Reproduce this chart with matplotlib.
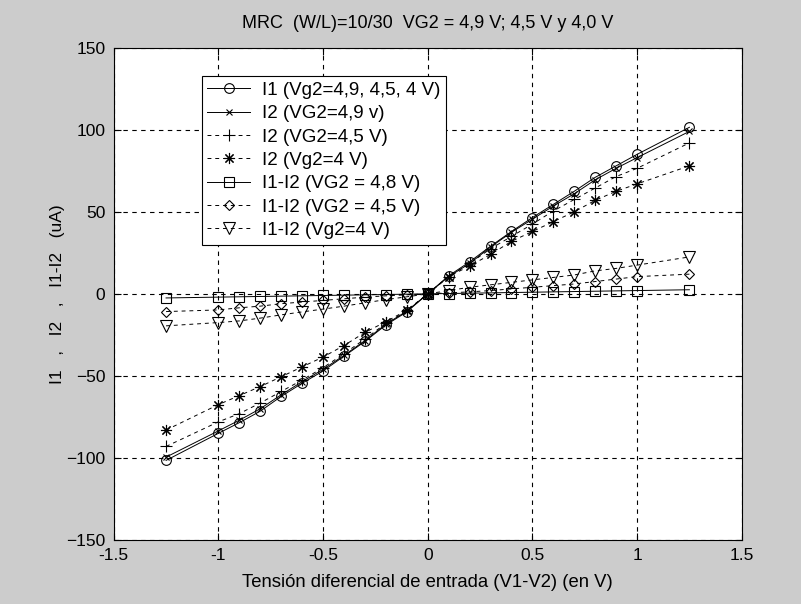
import numpy as np
import matplotlib.pyplot as plt

# tension diferencial de entrada (V)
v_in = [-1.25, -1.0, -0.9, -0.8, -0.7, -0.6, -0.5, -0.4, -0.3, -0.2, -0.1, 0.0,
        0.1, 0.2, 0.3, 0.4, 0.5, 0.6, 0.7, 0.8, 0.9, 1.0, 1.25]

# corrientes en uA
i1 = [-101.5, -85, -78.5, -71.5, -62.5, -54.5, -47, -38, -29, -19, -11, 0,
      11, 19.5, 29, 38, 46.5, 54.5, 62.5, 71, 78, 85, 101.5]
i2_49 = [-99.5, -83.5, -77, -70, -61.5, -53.5, -46, -37.5, -28.5, -18.5, -10.5, 0,
         10.5, 18.5, 28.5, 37.5, 45.5, 53.5, 61, 69.5, 76.5, 83, 99]
i2_45 = [-93, -78, -73, -66.5, -59.5, -52.5, -45, -36.5, -27.5, -18, -10.5, 0,
         10.5, 18.5, 27.5, 35, 42.5, 50.5, 57.5, 64.5, 71.5, 76.5, 92]
i2_40 = [-83, -67.5, -62, -56.5, -50.5, -44.5, -38.5, -31.5, -23.5, -17, -10, 0,
         10.5, 17, 24, 32, 38, 44, 50, 57, 62.5, 67, 78]
dif_48 = [-2.5, -2, -1.8, -1.6, -1.4, -1.2, -1, -0.8, -0.6, -0.4, -0.2, 0,
          0.2, 0.4, 0.6, 0.8, 1, 1.2, 1.4, 1.6, 1.8, 2, 2.5]
dif_45 = [-10.8, -9.8, -8.5, -7.5, -6, -5, -4, -3, -2, -1.2, -0.6, 0,
          0.6, 1.2, 2, 3, 4, 5, 6, 7.5, 9, 10.5, 12]
dif_40 = [-19.5, -17.5, -16.5, -14.8, -12.8, -11, -9.3, -7.5, -5.5, -3.5, -1.8, 0,
          2, 4, 5.5, 7, 8.5, 10, 11.5, 14, 15.5, 17.5, 22.5]

plt.rcParams['font.family'] = ['Liberation Sans', 'DejaVu Sans']

fig = plt.figure(figsize=(8.01, 6.04), dpi=100, facecolor='#cccccc')
ax = fig.add_axes([0.142, 0.106, 0.784, 0.815])

dash = (0, (4, 4))
mk = dict(color='black', lw=0.7, mfc='none', mew=0.8)
asterisk = (8, 2, 0)
ax.plot(v_in, i1, '-', marker='o', ms=7, label='I1 (Vg2=4,9, 4,5, 4 V)', **mk)
ax.plot(v_in, i2_49, '-', marker='x', ms=4.5, label='I2 (VG2=4,9 v)', **mk)
ax.plot(v_in, i2_45, linestyle=dash, marker='+', ms=9, label='I2 (VG2=4,5 V)', **mk)
ax.plot(v_in, i2_40, linestyle=dash, marker=asterisk, ms=8, label='I2 (Vg2=4 V)', **mk)
ax.plot(v_in, dif_48, '-', marker='s', ms=7, label='I1-I2 (VG2 = 4,8 V)', **mk)
ax.plot(v_in, dif_45, linestyle=dash, marker='D', ms=5.5, label='I1-I2 (VG2 = 4,5 V)', **mk)
ax.plot(v_in, dif_40, linestyle=dash, marker='v', ms=8, label='I1-I2 (Vg2=4 V)', **mk)

ax.set_xlim(-1.5, 1.5)
ax.set_ylim(-150, 150)
ax.set_xticks(np.arange(-1.5, 1.51, 0.5))
ax.set_xticklabels(['-1.5', '-1', '-0.5', '0', '0.5', '1', '1.5'])
ax.set_yticks(np.arange(-150, 151, 50))
ax.grid(True, color='black', linestyle=dash, linewidth=0.8)
ax.tick_params(direction='in', top=True, right=True, length=5, labelsize=12.5)
ax.tick_params(axis='x', pad=6)
ax.tick_params(axis='y', pad=6)
for s in ax.spines.values():
    s.set_linewidth(0.8)

ax.set_title('MRC  (W/L)=10/30  VG2 = 4,9 V; 4,5 V y 4,0 V', fontsize=13, pad=14)
ax.set_xlabel('Tensión diferencial de entrada (V1-V2) (en V)', fontsize=13.3, labelpad=8)
ax.set_ylabel('I1   ,   I2   ,   I1-I2   (uA)', fontsize=12.5, labelpad=1)

leg = ax.legend(loc='upper left', bbox_to_anchor=(0.14, 0.942), borderaxespad=0,
                fontsize=13.5, fancybox=False, framealpha=1, edgecolor='black',
                handlelength=2.3, handletextpad=0.6, labelspacing=0.33, borderpad=0.3)
leg.get_frame().set_linewidth(0.8)

plt.savefig('out.png', dpi=100, facecolor=fig.get_facecolor())
plt.close()
